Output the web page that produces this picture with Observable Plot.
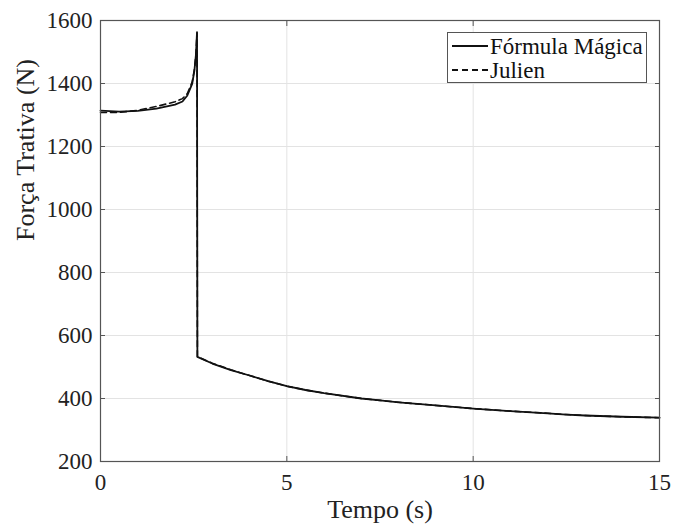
<!DOCTYPE html>
<html>
<head>
<meta charset="utf-8">
<script src="https://cdn.jsdelivr.net/npm/d3@7"></script>
<script src="https://cdn.jsdelivr.net/npm/@observablehq/plot@0.6"></script>
<style>
  body { margin: 0; background: #fff; }
  #wrap { position: relative; width: 673px; height: 528px; }
  #legend { position: absolute; left: 447px; top: 32px; width: 200px; height: 51px; border: 1px solid #555; background: #fff; box-sizing: border-box; }
  #legend svg { display: block; }
</style>
</head>
<body>
<div id="wrap">
  <div id="chart"></div>
  <div id="legend"></div>
</div>
<script>
// Time (s)
const tempo = [0, 0.5, 1, 1.5, 2, 2.2, 2.33, 2.46, 2.52, 2.56, 2.575, 2.59, 2.6, 3, 3.5, 4, 4.5, 5, 5.5, 6, 7, 7.5, 8, 9, 10, 11, 12, 12.5, 13, 14, 15];
// Força Trativa (N) – Fórmula Mágica
const formulaMagica = [1314, 1311, 1313, 1320, 1333, 1343, 1362, 1399, 1441, 1490, 1526, 1563, 532, 511, 490, 473, 455, 439, 427, 417, 400, 394, 388, 378, 368, 360, 353, 349, 346, 342, 339];
// Força Trativa (N) – Julien
const julien = [1308, 1308, 1315, 1327, 1342, 1352, 1368, 1405, 1445, 1492, 1526, 1560, 533, 512, 491, 473, 455, 439, 427, 417, 400, 394, 388, 378, 368, 360, 353, 349, 346, 342, 339];

const seriesNames = ["Fórmula Mágica", "Julien"];
const xTicks = [0, 5, 10, 15];
const yTicks = [200, 400, 600, 800, 1000, 1200, 1400, 1600];

const rows = [];
tempo.forEach((t, i) => {
  rows.push({t, f: formulaMagica[i], s: seriesNames[0]});
  rows.push({t, f: julien[i], s: seriesNames[1]});
});

const fmt = d3.format("d");

const chart = Plot.plot({
  width: 673,
  height: 528,
  marginLeft: 100,
  marginRight: 14,
  marginTop: 20,
  marginBottom: 67,
  style: { fontFamily: "Liberation Serif, serif", background: "#fff", color: "#222" },
  x: { domain: [0, 15] },
  y: { domain: [200, 1600] },
  marks: [
    Plot.gridX(xTicks, { stroke: "#e3e3e3", strokeOpacity: 1 }),
    Plot.gridY(yTicks, { stroke: "#e3e3e3", strokeOpacity: 1 }),
    Plot.line(rows.filter(d => d.s === seriesNames[1]), { x: "t", y: "f", stroke: "#111", strokeWidth: 1.6, strokeDasharray: "6,4" }),
    Plot.line(rows.filter(d => d.s === seriesNames[0]), { x: "t", y: "f", stroke: "#111", strokeWidth: 1.8 }),
    Plot.frame({ stroke: "#555", strokeWidth: 1.2 }),
    Plot.axisX(xTicks, { anchor: "bottom", tickSize: 0, tickPadding: 12, fontSize: 23, label: null, tickFormat: fmt, color: "#222" }),
    Plot.axisY(yTicks, { anchor: "left", tickSize: 0, tickPadding: 8, fontSize: 23, label: null, tickFormat: fmt, color: "#222" }),
    Plot.axisX(xTicks, { anchor: "bottom", tickSize: -5, tickFormat: () => "", label: null, stroke: "#555" }),
    Plot.axisX(xTicks, { anchor: "top", tickSize: -5, tickFormat: () => "", label: null, stroke: "#555" }),
    Plot.axisY(yTicks, { anchor: "left", tickSize: -5, tickFormat: () => "", label: null, stroke: "#555" }),
    Plot.axisY(yTicks, { anchor: "right", tickSize: -5, tickFormat: () => "", label: null, stroke: "#555" }),
    Plot.text(["Tempo (s)"], { frameAnchor: "bottom", dy: 56, fontSize: 26, fill: "#222" }),
    Plot.text(["Força Trativa (N)"], { frameAnchor: "left", dx: -75, rotate: -90, fontSize: 26, fill: "#222" })
  ]
});
document.getElementById("chart").appendChild(chart);

// Legend (SVG text so the serif font matches the chart)
const legend = document.getElementById("legend");
const rowsSvg = seriesNames.map((name, i) => {
  const y = 13 + i * 24;
  const dash = i === 1 ? 'stroke-dasharray="6,4"' : "";
  return `<line x1="4" y1="${y}" x2="40" y2="${y}" stroke="#111" stroke-width="1.8" ${dash}/>` +
         `<text x="42" y="${y}" dy="0.35em" font-family="Liberation Serif, serif" font-size="23" fill="#111">${name}</text>`;
}).join("");
legend.innerHTML = `<svg width="198" height="49">${rowsSvg}</svg>`;
</script>
</body>
</html>
